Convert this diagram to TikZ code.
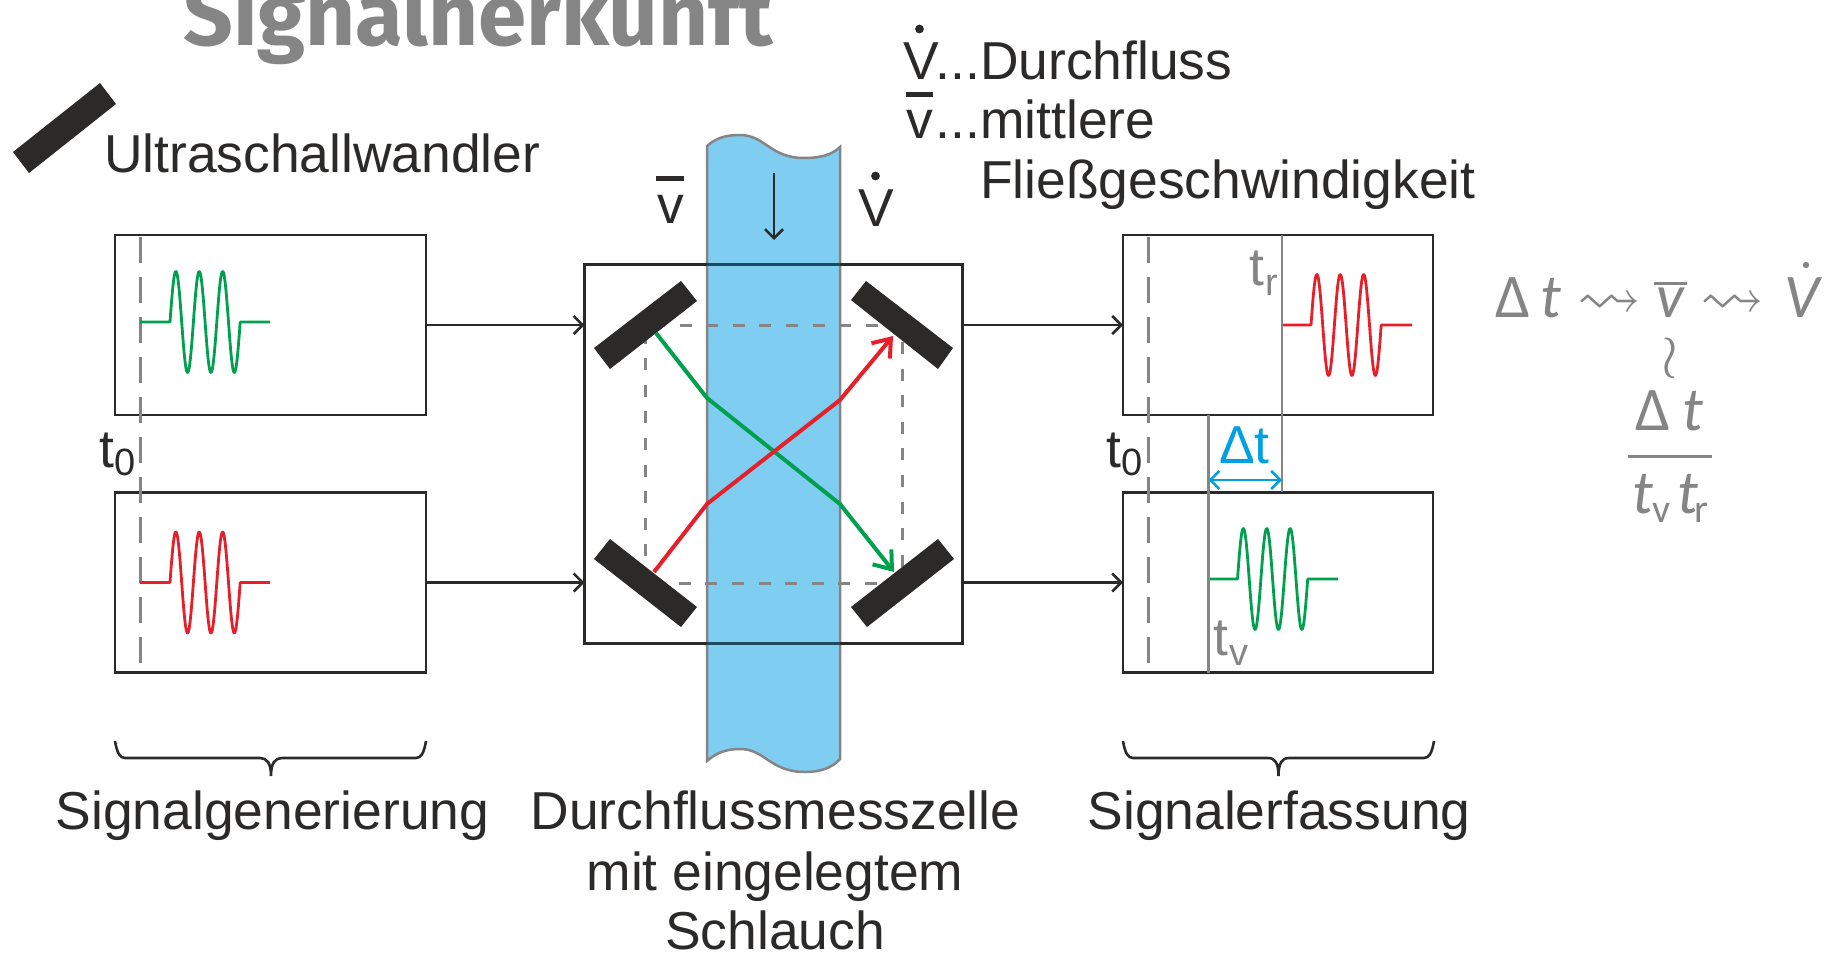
\documentclass[tikz,border=0pt]{standalone}
\usepackage{amsmath,amssymb}
\usepackage{fontspec}
\setmainfont{Liberation Sans}
\newfontfamily\titlefont{Fira Sans}
\newfontfamily\formfont{Carlito}
\usetikzlibrary{arrows.meta,calc}
\definecolor{ink}{HTML}{2B2A29}
\definecolor{grayline}{HTML}{858585}
\definecolor{tube}{HTML}{7FCEF1}
\definecolor{tubeink}{HTML}{1D4A60}
\definecolor{sigred}{HTML}{E6202A}
\definecolor{siggreen}{HTML}{00A04F}
\definecolor{sigblue}{HTML}{00A0E3}
\tikzset{
  x=0.5pt,y=-0.5pt,
  box/.style={draw=ink,line width=1.4pt,inner sep=0pt,outer sep=0pt,minimum width=155.5pt,minimum height=90pt},
  flow/.style={draw=ink,line width=1.3pt,-{Straight Barb[length=4.5pt,width=9pt]}},
  lbl/.style={inner sep=0pt,outer sep=0pt,text=ink,anchor=base,font=\fontsize{26.7}{30}\selectfont},
  lblw/.style={lbl,anchor=base west},
  sublbl/.style={inner sep=0pt,outer sep=0pt,anchor=base west,font=\fontsize{19}{20}\selectfont},
  graylbl/.style={lblw,text=grayline},
  xd/.style={fill=ink,draw=none},
  dash1/.style={draw=grayline,line width=1.5pt,dash pattern=on 13pt off 7pt},
  dash2/.style={draw=grayline,line width=1.5pt,dash pattern=on 6pt off 7.3pt},
  gl/.style={draw=grayline,line width=1.3pt},
  ray/.style={line width=2pt,line join=round,-{Straight Barb[length=8pt,width=12pt]}},
  pulse/.style={line width=1.4pt,line join=round},
  brace/.style={draw=ink,line width=1.3pt},
  mth/.style={inner sep=0pt,outer sep=0pt,text=grayline,anchor=base west,font=\formfont\fontsize{31}{34}\selectfont},
  msub/.style={inner sep=0pt,outer sep=0pt,text=grayline,anchor=base west,font=\formfont\fontsize{20}{22}\selectfont},
  squig/.style={inner sep=0pt,outer sep=0pt,text=grayline,scale=3.2},
}
\newcommand{\wavepulse}[4]{% colour, x0 (start of flat), xb (start of burst), ybase
  \draw[pulse,#1] (#2,#4) -- (#3,#4)
    -- plot[domain=0:70.2,samples=160] ({#3+\x},{#4-50.5*sin(\x/23.4*360)})
    -- (#2+130,#4);
}
\begin{document}
\begin{tikzpicture}
\useasboundingbox (0,0) rectangle (1828,954);
\clip (0,0) rectangle (1828,954);

% title
\node[inner sep=0pt,anchor=base west,text=grayline,font=\titlefont\bfseries\fontsize{43.5}{45}\selectfont] (title) at (183,45) {Signalherkunft};

% legend
\path[xd] (100,83) -- (116,104) -- (29,173) -- (13,152) -- cycle;
\node[lblw] (legend) at (104,172) {Ultraschallwandler};

% tube
\path[fill=tube,draw=grayline,line width=1.25pt]
  (707,146) .. controls (718,136) and (730,135) .. (740,135)
  .. controls (765,135) and (770,158) .. (804,158)
  .. controls (820,158) and (832,155) .. (840,147)
  -- (840,759)
  .. controls (832,768) and (820,772) .. (805,772)
  .. controls (770,772) and (765,749) .. (740,749)
  .. controls (730,749) and (718,751) .. (707,761) -- cycle;

% boxes
\node[box] (gtop) at (270.5,325) {};
\node[box] (gbot) at (270.5,582.5) {};
\node[box,minimum width=189pt,minimum height=189.5pt] (cell) at (773.5,454) {};
\node[box,minimum width=155pt] (dtop) at (1278,325) {};
\node[box,minimum width=155pt] (dbot) at (1278,582.5) {};
\draw[tubeink,line width=1.4pt] (707,264.5) -- (840,264.5) (707,643.5) -- (840,643.5);

% dashed reference rectangle
\draw[dash2] (645,583) -- (645,325) -- (902,325) -- (902,583) -- cycle;

% connectors
\draw[flow] (gtop.east) -- (gtop.east -| cell.west);
\draw[flow] (gbot.east) -- (gbot.east -| cell.west);
\draw[flow] (dtop.west -| cell.east) -- (dtop.west);
\draw[flow] (dbot.west -| cell.east) -- (dbot.west);

% down arrow
\coordinate (flowA) at (774,173);
\coordinate (flowB) at (774,240);
\draw[flow] (flowA) -- (flowB);

% transducers
\path[xd] (681,281) -- (697,301) -- (610,369) -- (594,348) -- cycle;
\path[xd] (866,281) -- (953,348) -- (938,369) -- (851,300) -- cycle;
\path[xd] (610,539) -- (697,607) -- (681,627) -- (594,559) -- cycle;
\path[xd] (938,539) -- (954,559) -- (867,627) -- (851,607) -- cycle;

% rays
\draw[ray,siggreen] (656,333) -- (707,398) -- (840,504) -- (894,572);
\draw[ray,sigred] (654,572) -- (707,504) -- (840,400) -- (893,336);

% t0 dashes
\draw[dash1] (140,237) -- (140,664);
\draw[dash1] (1148,237) -- (1148,664);

% pulses
\wavepulse{siggreen}{140}{170}{322}
\wavepulse{sigred}{140}{170}{582.5}
\wavepulse{sigred}{1282}{1311}{325}
\wavepulse{siggreen}{1208}{1237.5}{579}

% time lines
\draw[gl] (1282,235) -- (1282,492);
\draw[gl] (1208.5,415) -- (1208.5,673);
\coordinate (dl) at (1208.5,480);
\coordinate (dr) at (1282,480);
\draw[sigblue,line width=1.3pt,{Straight Barb[length=4.5pt,width=9pt]}-{Straight Barb[length=4.5pt,width=9pt]}] (dl) -- (dr);

% time labels
\node[lblw] (t0a) at (99,467) {t};
\node[sublbl,text=ink] (t0as) at (114,475) {0};
\node[lblw] (t0b) at (1106,467) {t};
\node[sublbl,text=ink] (t0bs) at (1121,475) {0};
\node[graylbl] (tr) at (1249,285) {t};
\node[sublbl,text=grayline] (trs) at (1265,295) {r};
\node[graylbl] (tv) at (1213,655) {t};
\node[sublbl,text=grayline] (tvs) at (1229,665) {v};
\node[lblw,text=sigblue] (dt) at (1219,463) {Δt};

% symbols above tube
\node[lblw] (vbar) at (657,223) {v};
\path[xd] (656,175.5) rectangle (684,180.5);
\node[lblw] (vdot) at (858,226) {V};
\path[xd] (875.5,176) circle (2.2pt);

% key
\node[lblw] (k1) at (903,79) {V\hspace{-1.5pt}...Durchfluss};
\path[xd] (919.5,29) circle (2.2pt);
\node[lblw] (k2) at (906,138) {v\hspace{1.6pt}...mittlere};
\path[xd] (906,91.5) rectangle (933,96.5);
\node[lblw] (k3) at (980,198) {Fließgeschwindigkeit};

% captions
\node[lbl] (c1) at (272.5,829.7) {Signalgenerierung};
\node[lbl] (c2a) at (775.5,829.7) {Durchflussmesszelle};
\node[lbl] (c2b) at (775,890.7) {mit eingelegtem};
\node[lbl] (c2c) at (775,949.7) {Schlauch};
\node[lbl] (c3) at (1279,829.7) {Signalerfassung};

% braces
\draw[brace] (115,741) .. controls (117,753) and (120,758) .. (125,758) -- (260,758)
  .. controls (267,758) and (271,763) .. (271,776)
  .. controls (271,763) and (275,758) .. (282,758) -- (416,758)
  .. controls (421,758) and (424,753) .. (426,741);
\draw[brace] (1123,741) .. controls (1125,753) and (1128,758) .. (1133,758) -- (1268,758)
  .. controls (1275,758) and (1278.5,763) .. (1278.5,776)
  .. controls (1278.5,763) and (1282,758) .. (1289,758) -- (1424,758)
  .. controls (1429,758) and (1432,753) .. (1434,741);

% formula
\node[mth] (f1) at (1495,317) {Δ\hspace{5pt}\itshape t};
\node[squig] (s1) at (1609,305) {$\rightsquigarrow$};
\node[mth] (f2) at (1656,317) {\itshape v};
\path[fill=grayline] (1654,281.5) rectangle (1687,285);
\node[squig] (s2) at (1732,305) {$\rightsquigarrow$};
\node[mth] (f3) at (1784,317) {\itshape V};
\path[fill=grayline] (1806,265) circle (1.6pt);
\node[squig,scale=0.95] (s3) at (1670,358) {$\wr$};
\node[mth] (f4) at (1635,430) {Δ\hspace{6pt}\itshape t};
\path[fill=grayline] (1628,454.5) rectangle (1712,457.5);
\node[mth] (f5) at (1632,513) {\itshape t};
\node[msub] (f5a) at (1652,522) {v};
\node[mth] (f5b) at (1677,513) {\itshape t};
\node[msub] (f5c) at (1694,522) {r};
\end{tikzpicture}
\end{document}
